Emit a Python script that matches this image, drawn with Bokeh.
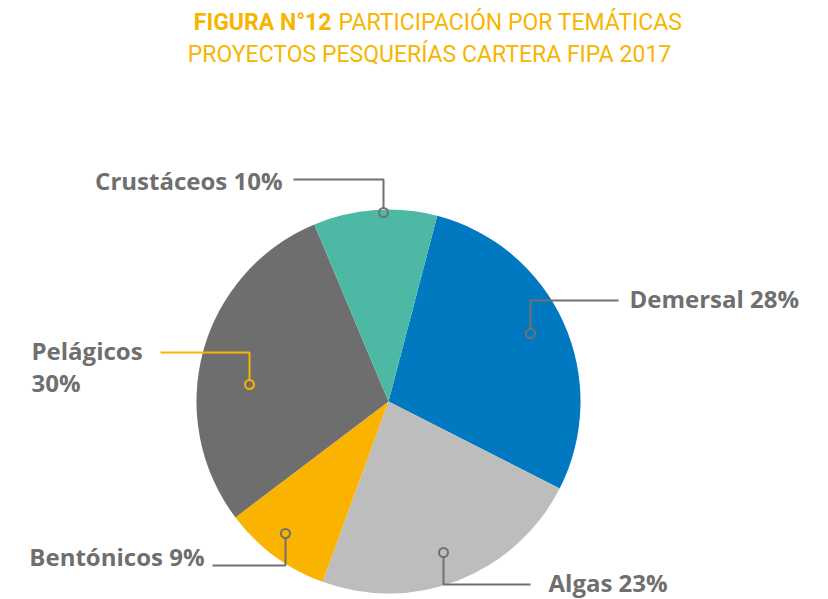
import numpy as np
from bokeh.plotting import figure
from bokeh.models import Range1d
from bokeh.core.properties import value
from bokeh.embed import file_html
from bokeh.resources import INLINE

# ---- data ----
categories = ["Demersal", "Algas", "Bentónicos", "Pelágicos", "Crustáceos"]
# slice sizes as drawn in the picture (labels show the rounded percentages)
shares = [28.4, 23.1, 9.1, 29.0, 10.4]
colors = ["#0079C1", "#BDBDBD", "#F9B300", "#6E6E6E", "#4DB9A5"]
label_texts = ["Demersal 28%", "Algas 23%", "Bentónicos 9%", "Pelágicos\n30%", "Crustáceos 10%"]

title_bold = "FIGURA N°12"
title_rest = "PARTICIPACIÓN POR TEMÁTICAS"
title_line2 = "PROYECTOS PESQUERÍAS CARTERA FIPA 2017"

W, H = 828, 599
TOP = 599  # page coordinate flip


def py(y):
    return TOP - y


p = figure(width=W, height=H, output_backend="svg", toolbar_location=None,
           x_range=Range1d(0, W), y_range=Range1d(TOP - H, TOP),
           min_border=0, outline_line_color=None)
p.axis.visible = False
p.grid.visible = False
p.background_fill_color = "white"
p.border_fill_color = "white"

# ---- pie ----
cx, cy, r = 388, 401, 192
start_deg = 14.7
fr = np.array(shares, dtype=float) / sum(shares)
cum = np.concatenate([[0], np.cumsum(fr)]) * 360.0
starts = np.deg2rad(90 - (start_deg + cum[:-1]))
ends = np.deg2rad(90 - (start_deg + cum[1:]))
p.wedge(x=[cx] * len(shares), y=[py(cy)] * len(shares), radius=r,
        start_angle=list(starts), end_angle=list(ends), direction="clock",
        fill_color=colors, line_color=None)

# ---- leaders (page pixel layout) ----
gray = "#707070"
leaders = [
    ([618, 530, 530], [300, 300, 329], (530, 333), gray),          # Demersal
    ([530, 443, 443], [584, 584, 556], (443, 552), gray),          # Algas
    ([212, 285, 285], [565, 565, 537], (285, 533), gray),          # Bentonicos
    ([160, 249, 249], [352, 352, 380], (249, 384), "#F9B300"),     # Pelagicos
    ([293, 383, 383], [179, 179, 208], (383, 212), gray),          # Crustaceos
]
for xs, ys, (ccx, ccy), col in leaders:
    p.line(xs, [py(v) for v in ys], line_color=col, line_width=2)
    p.scatter([ccx], [py(ccy)], size=9, marker="circle", fill_color=None,
              line_color=col, line_width=2)

# ---- labels ----
lab_font = value("Open Sans")
lab_col = "#6F6F6F"
lab_pos = [(629, 298, "left"), (548, 582, "left"), (204, 556, "right"),
           (31, 350, "left"), (282, 180, "right")]
for t, (lx, ly, al) in zip(label_texts, lab_pos):
    lines = t.split("\n")
    for i, ln in enumerate(lines):
        p.text(x=[lx], y=[py(ly + i * 32)], text=[ln], text_font=lab_font,
               text_font_style="bold", text_font_size="24px", text_color=lab_col,
               text_align=al, text_baseline="middle")

# ---- title ----
tcol = "#F7B500"
tfont = value("Roboto")
p.text(x=[331], y=[py(22)], text=[title_bold], text_font=tfont, text_font_style="bold",
       text_font_size="23px", text_color=tcol, text_align="right", text_baseline="middle")
p.text(x=[338], y=[py(22)], text=[title_rest], text_font=tfont, text_font_style="normal",
       text_font_size="23px", text_color=tcol, text_align="left", text_baseline="middle")
p.text(x=[429], y=[py(54)], text=[title_line2], text_font=tfont, text_font_style="normal",
       text_font_size="23px", text_color=tcol, text_align="center", text_baseline="middle")

open("out.html", "w").write(file_html(p, INLINE))
